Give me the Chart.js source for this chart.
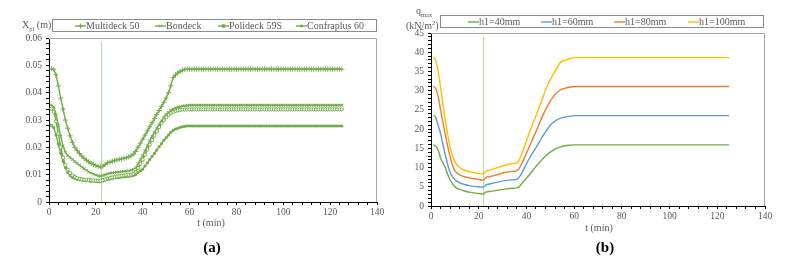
<!DOCTYPE html>
<html>
<head>
<meta charset="utf-8">
<script src="https://cdn.jsdelivr.net/npm/chart.js@4.4.1/dist/chart.umd.min.js"></script>
<style>
  body { margin: 0; background: #fff; font-family: "Liberation Serif", "Times New Roman", Times, "DejaVu Serif", serif; }
  #wrap { position: relative; width: 795px; height: 274px; overflow: hidden; }
  #wrap > canvas { position: absolute; top: 0; }
  .lbl { position: absolute; color: #595959; font-size: 10px; white-space: nowrap; line-height: 10px; }
  .lbl sub { font-size: 6.5px; }
  .lbl sup { font-size: 6.5px; }
  .mid { transform: translate(-50%, -50%); }
  .legend { position: absolute; border: 1px solid #8c8c8c; box-sizing: border-box; height: 13px; }
  .item { position: absolute; top: 0; font-size: 10px; color: #595959; line-height: 11px; white-space: nowrap; }
  .item canvas { vertical-align: -1px; }
  .cap { position: absolute; font-weight: bold; font-size: 15px; color: #000; transform: translate(-50%, -50%); }
</style>
</head>
<body>
<div id="wrap">
  <canvas id="chartA" width="400" height="274" style="left:0"></canvas>
  <canvas id="chartB" width="395" height="274" style="left:400px"></canvas>

  <div class="lbl" style="left:22px;top:20px">X<sub>pl</sub> (m)</div>
  <div class="legend" id="legA" style="left:52px;top:19px;width:325px"></div>
  <div class="lbl mid" style="left:211px;top:223px">t (min)</div>
  <div class="cap" style="left:212px;top:247px">(a)</div>

  <div class="lbl" style="left:416px;top:6px">q<sub>max</sub></div>
  <div class="lbl" style="left:406px;top:18px">(kN/m<sup>2</sup>)</div>
  <div class="legend" id="legB" style="left:440px;top:15px;width:324px"></div>
  <div class="lbl mid" style="left:599px;top:228px">t (min)</div>
  <div class="cap" style="left:605px;top:247px">(b)</div>
</div>

<script>
// ---- data (a): plastic displacement, one value per minute from t = 1 to 125
const timesA = [];
for (let t = 1; t <= 125; t++) timesA.push(t);

const multideck50 = [
  0.0487, 0.0485, 0.0465, 0.0425, 0.0380, 0.0340, 0.0300, 0.0270, 0.0242, 0.0218,
  0.0200, 0.0188, 0.0178, 0.0168, 0.0160, 0.0153, 0.0147, 0.0141, 0.0137, 0.0133,
  0.0130, 0.0128, 0.0130, 0.0138, 0.0143, 0.0146, 0.0149, 0.0152, 0.0154, 0.0156,
  0.0158, 0.0160, 0.0162, 0.0165, 0.0169, 0.0175, 0.0185, 0.0200, 0.0215, 0.0230,
  0.0245, 0.0260, 0.0275, 0.0290, 0.0305, 0.0320, 0.0335, 0.0350, 0.0365, 0.0380,
  0.0400, 0.0425, 0.0455, 0.0465, 0.0472, 0.0478, 0.0482, 0.0485, 0.0486, 0.0486,
  0.0486, 0.0486, 0.0486, 0.0486, 0.0486, 0.0486, 0.0486, 0.0486, 0.0486, 0.0486,
  0.0486, 0.0486, 0.0486, 0.0486, 0.0486, 0.0486, 0.0486, 0.0486, 0.0486, 0.0486,
  0.0486, 0.0486, 0.0486, 0.0486, 0.0486, 0.0486, 0.0486, 0.0486, 0.0486, 0.0486,
  0.0486, 0.0486, 0.0486, 0.0486, 0.0486, 0.0486, 0.0486, 0.0486, 0.0486, 0.0486,
  0.0486, 0.0486, 0.0486, 0.0486, 0.0486, 0.0486, 0.0486, 0.0486, 0.0486, 0.0486,
  0.0486, 0.0486, 0.0486, 0.0486, 0.0486, 0.0486, 0.0486, 0.0486, 0.0486, 0.0486,
  0.0486, 0.0486, 0.0486, 0.0486, 0.0486
];
const bondeck = [
  0.0355, 0.0348, 0.0320, 0.0280, 0.0240, 0.0205, 0.0182, 0.0170, 0.0163, 0.0156,
  0.0148, 0.0141, 0.0135, 0.0128, 0.0122, 0.0116, 0.0110, 0.0106, 0.0102, 0.0099,
  0.0096, 0.0094, 0.0097, 0.0100, 0.0103, 0.0105, 0.0107, 0.0108, 0.0109, 0.0110,
  0.0111, 0.0112, 0.0113, 0.0114, 0.0116, 0.0119, 0.0125, 0.0140, 0.0155, 0.0170,
  0.0188, 0.0206, 0.0225, 0.0240, 0.0255, 0.0270, 0.0283, 0.0297, 0.0310, 0.0320,
  0.0328, 0.0335, 0.0340, 0.0344, 0.0347, 0.0349, 0.0351, 0.0352, 0.0353, 0.0354,
  0.0354, 0.0354, 0.0354, 0.0354, 0.0354, 0.0354, 0.0354, 0.0354, 0.0354, 0.0354,
  0.0354, 0.0354, 0.0354, 0.0354, 0.0354, 0.0354, 0.0354, 0.0354, 0.0354, 0.0354,
  0.0354, 0.0354, 0.0354, 0.0354, 0.0354, 0.0354, 0.0354, 0.0354, 0.0354, 0.0354,
  0.0354, 0.0354, 0.0354, 0.0354, 0.0354, 0.0354, 0.0354, 0.0354, 0.0354, 0.0354,
  0.0354, 0.0354, 0.0354, 0.0354, 0.0354, 0.0354, 0.0354, 0.0354, 0.0354, 0.0354,
  0.0354, 0.0354, 0.0354, 0.0354, 0.0354, 0.0354, 0.0354, 0.0354, 0.0354, 0.0354,
  0.0354, 0.0354, 0.0354, 0.0354, 0.0354
];
const polideck59s = [
  0.0342, 0.0330, 0.0295, 0.0250, 0.0200, 0.0162, 0.0135, 0.0118, 0.0106, 0.0098,
  0.0092, 0.0088, 0.0085, 0.0083, 0.0082, 0.0081, 0.0080, 0.0079, 0.0079, 0.0078,
  0.0078, 0.0078, 0.0080, 0.0083, 0.0086, 0.0088, 0.0090, 0.0092, 0.0093, 0.0095,
  0.0096, 0.0097, 0.0098, 0.0099, 0.0100, 0.0103, 0.0110, 0.0125, 0.0140, 0.0155,
  0.0173, 0.0192, 0.0210, 0.0227, 0.0244, 0.0260, 0.0274, 0.0288, 0.0300, 0.0310,
  0.0318, 0.0325, 0.0330, 0.0333, 0.0335, 0.0337, 0.0338, 0.0338, 0.0339, 0.0339,
  0.0339, 0.0339, 0.0339, 0.0339, 0.0339, 0.0339, 0.0339, 0.0339, 0.0339, 0.0339,
  0.0339, 0.0339, 0.0339, 0.0339, 0.0339, 0.0339, 0.0339, 0.0339, 0.0339, 0.0339,
  0.0339, 0.0339, 0.0339, 0.0339, 0.0339, 0.0339, 0.0339, 0.0339, 0.0339, 0.0339,
  0.0339, 0.0339, 0.0339, 0.0339, 0.0339, 0.0339, 0.0339, 0.0339, 0.0339, 0.0339,
  0.0339, 0.0339, 0.0339, 0.0339, 0.0339, 0.0339, 0.0339, 0.0339, 0.0339, 0.0339,
  0.0339, 0.0339, 0.0339, 0.0339, 0.0339, 0.0339, 0.0339, 0.0339, 0.0339, 0.0339,
  0.0339, 0.0339, 0.0339, 0.0339, 0.0339
];
const confraplus60 = [
  0.0281, 0.0272, 0.0245, 0.0212, 0.0178, 0.0148, 0.0125, 0.0108, 0.0097, 0.0090,
  0.0086, 0.0083, 0.0081, 0.0080, 0.0079, 0.0078, 0.0077, 0.0076, 0.0076, 0.0075,
  0.0075, 0.0075, 0.0077, 0.0080, 0.0082, 0.0084, 0.0086, 0.0088, 0.0089, 0.0090,
  0.0091, 0.0092, 0.0093, 0.0094, 0.0095, 0.0097, 0.0100, 0.0108, 0.0114, 0.0120,
  0.0132, 0.0143, 0.0155, 0.0167, 0.0178, 0.0190, 0.0202, 0.0213, 0.0225, 0.0235,
  0.0245, 0.0255, 0.0262, 0.0267, 0.0270, 0.0273, 0.0275, 0.0277, 0.0278, 0.0278,
  0.0278, 0.0278, 0.0278, 0.0278, 0.0278, 0.0278, 0.0278, 0.0278, 0.0278, 0.0278,
  0.0278, 0.0278, 0.0278, 0.0278, 0.0278, 0.0278, 0.0278, 0.0278, 0.0278, 0.0278,
  0.0278, 0.0278, 0.0278, 0.0278, 0.0278, 0.0278, 0.0278, 0.0278, 0.0278, 0.0278,
  0.0278, 0.0278, 0.0278, 0.0278, 0.0278, 0.0278, 0.0278, 0.0278, 0.0278, 0.0278,
  0.0278, 0.0278, 0.0278, 0.0278, 0.0278, 0.0278, 0.0278, 0.0278, 0.0278, 0.0278,
  0.0278, 0.0278, 0.0278, 0.0278, 0.0278, 0.0278, 0.0278, 0.0278, 0.0278, 0.0278,
  0.0278, 0.0278, 0.0278, 0.0278, 0.0278
];
const namesA = ["Multideck 50", "Bondeck", "Polideck 59S", "Confraplus 60"];

// ---- data (b): q_max for slab depth h1
const timesB = [1, 2, 3, 4, 5, 6, 7, 8, 9, 10, 11, 12, 14, 16, 18, 20, 22, 23, 25, 28,
  31, 34, 36, 37, 38, 40, 42, 44, 46, 48, 50, 52, 54, 56, 58, 60, 125];
const h40 = [16.0, 15.5, 14.5, 12.5, 11.2, 10.0, 8.2, 6.8, 5.8, 5.0, 4.6, 4.3, 3.9, 3.6, 3.4, 3.25, 3.1, 3.6, 3.8, 4.1,
  4.4, 4.6, 4.7, 5.0, 5.8, 7.2, 8.7, 10.3, 11.7, 13.0, 14.0, 14.8, 15.3, 15.6, 15.8, 15.9, 15.9];
const h60 = [23.6, 23.0, 21.0, 18.9, 16.0, 13.3, 10.8, 8.8, 7.6, 6.9, 6.4, 6.0, 5.6, 5.3, 5.1, 5.0, 4.9, 5.5, 5.8, 6.2,
  6.6, 6.8, 7.0, 7.5, 8.5, 11.0, 13.2, 15.2, 17.3, 19.3, 21.0, 22.1, 22.8, 23.1, 23.3, 23.5, 23.5];
const h80 = [31.2, 30.5, 28.5, 25.0, 21.8, 18.5, 15.5, 12.8, 10.6, 9.2, 8.5, 8.1, 7.6, 7.3, 7.1, 6.9, 6.7, 7.4, 7.7, 8.2,
  8.7, 9.0, 9.2, 9.8, 11.0, 13.7, 16.5, 19.4, 22.3, 25.0, 27.3, 29.0, 30.1, 30.6, 30.9, 31.1, 31.1];
const h100 = [38.8, 37.8, 35.0, 31.0, 26.5, 22.5, 18.5, 15.2, 13.0, 11.6, 10.6, 10.0, 9.3, 8.9, 8.7, 8.5, 8.3, 9.0, 9.4, 10.0,
  10.6, 11.0, 11.2, 12.0, 13.5, 17.0, 20.3, 23.5, 26.7, 30.2, 32.8, 35.0, 37.2, 37.9, 38.3, 38.6, 38.6];
const namesB = ["h1=40mm", "h1=60mm", "h1=80mm", "h1=100mm"];

const markTime = 22;   // vertical reference line

const green = "#70AD47";
const colorsB = ["#70AD47", "#5B9BD5", "#ED7D31", "#FFC000"];
const stylesA = [
  { pointStyle: "cross", pointRadius: 2.5 },
  { pointStyle: "crossRot", pointRadius: 2 },
  { pointStyle: "circle", pointRadius: 1.6 },
  { pointStyle: "rect", pointRadius: 1.3 }
];
const serif = "'Liberation Serif', 'Times New Roman', Times, 'DejaVu Serif', serif";

// vertical line at markTime, drawn behind the series
const markLine = {
  id: "markLine",
  beforeDatasetsDraw(chart) {
    const a = chart.chartArea, g = chart.ctx;
    const x = Math.round(chart.scales.x.getPixelForValue(markTime)) + 0.5;
    g.save();
    g.strokeStyle = "#b8dba0";
    g.lineWidth = 1;
    g.beginPath();
    g.moveTo(x, a.top + 4);
    g.lineTo(x, a.bottom);
    g.stroke();
    g.restore();
  }
};

// grey frame on top and right of the plot area
const frame = {
  id: "frame",
  afterDraw(chart) {
    const a = chart.chartArea, g = chart.ctx;
    g.save();
    g.strokeStyle = "#a6a6a6";
    g.lineWidth = 1;
    g.beginPath();
    g.moveTo(a.left, a.top + 0.5);
    g.lineTo(a.right - 0.5, a.top + 0.5);
    g.lineTo(a.right - 0.5, a.bottom);
    g.stroke();
    g.restore();
  }
};

function makeScales(yMax, yStep, yMajor, yWidth, fmt) {
  return {
    x: {
      type: "linear", min: 0, max: 140,
      afterFit: s => { s.height = 20; },
      border: { color: "#000", width: 1 },
      grid: { drawOnChartArea: false, color: "#000", tickLength: 3 },
      ticks: {
        stepSize: 4, autoSkip: false, maxRotation: 0, padding: 2,
        color: "#595959", font: { family: serif, size: 9.5 },
        callback: v => (v % 20 === 0 ? String(v) : "")
      }
    },
    y: {
      min: 0, max: yMax,
      afterFit: s => { s.width = yWidth; },
      border: { color: "#000", width: 1 },
      grid: { drawOnChartArea: false, color: "#000", tickLength: 3 },
      ticks: {
        stepSize: yStep, autoSkip: false, padding: 4,
        color: "#595959", font: { family: serif, size: 9.5 },
        callback: v => {
          const k = v / yMajor;
          return Math.abs(k - Math.round(k)) < 1e-6 ? fmt(v) : "";
        }
      }
    }
  };
}

const seriesA = [multideck50, bondeck, polideck59s, confraplus60];
new Chart(document.getElementById("chartA"), {
  type: "line",
  data: {
    datasets: seriesA.map((vals, i) => ({
      label: namesA[i],
      data: timesA.map((t, j) => ({ x: t, y: vals[j] })),
      borderColor: green,
      backgroundColor: green,
      borderWidth: 1.4,
      pointBorderWidth: 1,
      pointBorderColor: green,
      pointBackgroundColor: i === 2 ? "#fff" : green,
      tension: 0,
      ...stylesA[i]
    }))
  },
  options: {
    responsive: false, animation: false, devicePixelRatio: 1,
    layout: { padding: { left: 0, right: 23, top: 38, bottom: 52 } },
    plugins: { legend: { display: false }, tooltip: { enabled: false } },
    scales: makeScales(0.06, 0.002, 0.01, 49, v => String(Number(v.toFixed(2))))
  },
  plugins: [markLine, frame]
});

const seriesB = [h40, h60, h80, h100];
new Chart(document.getElementById("chartB"), {
  type: "line",
  data: {
    datasets: seriesB.map((vals, i) => ({
      label: namesB[i],
      data: timesB.map((t, j) => ({ x: t, y: vals[j] })),
      borderColor: colorsB[i],
      borderWidth: 1.4,
      pointRadius: 0,
      cubicInterpolationMode: "monotone"
    }))
  },
  options: {
    responsive: false, animation: false, devicePixelRatio: 1,
    layout: { padding: { left: 0, right: 30, top: 33, bottom: 48 } },
    plugins: { legend: { display: false }, tooltip: { enabled: false } },
    scales: makeScales(45, 1, 5, 31, v => String(Math.round(v)))
  },
  plugins: [markLine, frame]
});

// legends in Excel style boxes
function icon(color, style, radius) {
  const c = document.createElement("canvas");
  c.width = 11; c.height = 8;
  const g = c.getContext("2d");
  g.strokeStyle = color; g.fillStyle = color; g.lineWidth = 1.4;
  g.beginPath(); g.moveTo(0, 4); g.lineTo(11, 4); g.stroke();
  if (style) {
    g.lineWidth = 1;
    Chart.helpers.drawPoint(g, { pointStyle: style, radius: radius, borderWidth: 1, rotation: 0 }, 5.5, 4);
  }
  return c;
}

function buildLegend(id, names, colors, styles, lefts) {
  const box = document.getElementById(id);
  names.forEach((n, i) => {
    const d = document.createElement("div");
    d.className = "item";
    d.style.left = lefts[i] + "px";
    d.appendChild(icon(colors[i], styles ? styles[i].pointStyle : null, styles ? styles[i].pointRadius : 0));
    d.appendChild(document.createTextNode(n));
    box.appendChild(d);
  });
}
buildLegend("legA", namesA, [green, green, green, green], stylesA, [22, 102, 165, 243]);
buildLegend("legB", namesB, colorsB, null, [27, 100, 173, 247]);
</script>
</body>
</html>
